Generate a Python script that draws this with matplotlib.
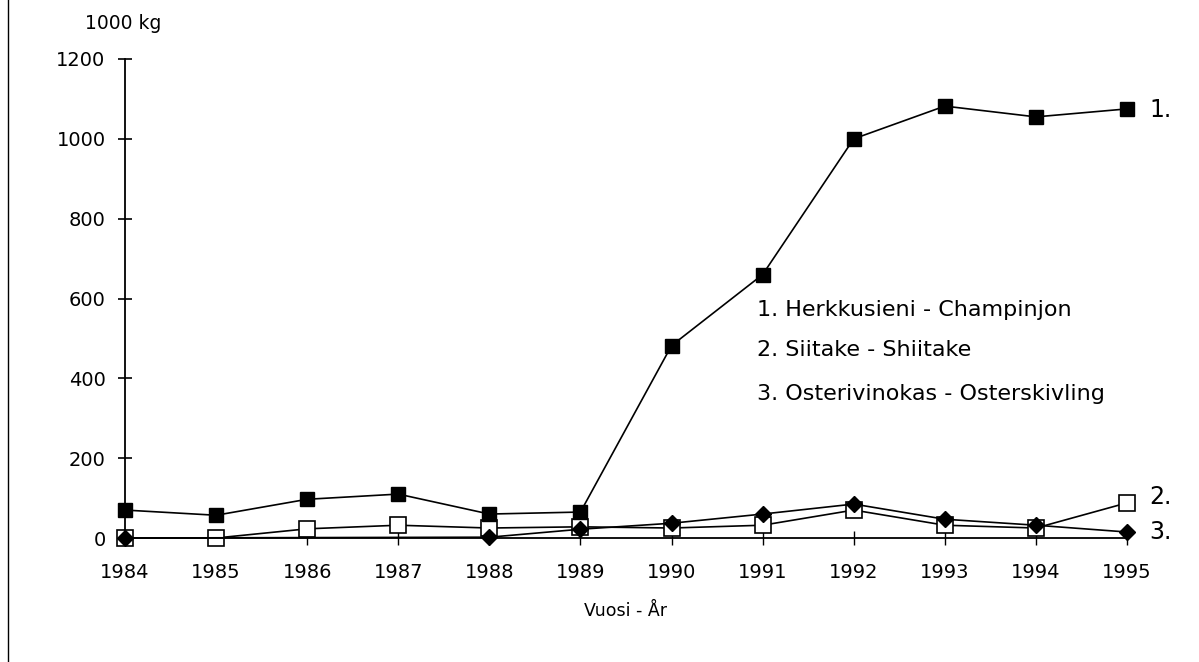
import numpy as np
import matplotlib
matplotlib.use("Agg")
import matplotlib.pyplot as plt
from matplotlib.lines import Line2D

years = [1984, 1985, 1986, 1987, 1988, 1989, 1990, 1991, 1992, 1993, 1994, 1995]
champinjon = [70, 57, 97, 110, 60, 65, 482, 660, 1000, 1082, 1055, 1075]
shiitake = [0, 0, 23, 32, 25, 28, 25, 32, 70, 32, 25, 88]
osterskivling = [0, np.nan, np.nan, np.nan, 2, 22, 37, 60, 85, 47, 32, 15]
yticks = [0, 200, 400, 600, 800, 1000, 1200]
legend_lines = ["1. Herkkusieni - Champinjon", "2. Siitake - Shiitake",
                "3. Osterivinokas - Osterskivling"]
end_labels = ["1.", "2.", "3."]

plt.rcParams['font.family'] = ['DejaVu Sans']

fig = plt.figure(figsize=(11.99, 6.62), dpi=100)
ax = fig.add_axes([125/1199, 1 - 538/662, (1127-125)/1199, (538-59)/662])

lw = 1.2
y3 = np.array(osterskivling, dtype=float)
m3 = ~np.isnan(y3)
x3 = np.array(years)[m3]
ax.plot(x3, y3[m3], color='black', lw=lw, clip_on=False, zorder=3)
ax.plot(years, shiitake, color='black', lw=lw, marker='s', markersize=11,
        markerfacecolor='white', markeredgecolor='black', markeredgewidth=1.2,
        clip_on=False, zorder=2)
ax.plot(x3, y3[m3], color='black', lw=0, marker='D', markersize=8,
        markerfacecolor='black', markeredgecolor='black', clip_on=False, zorder=4)
ax.plot(years, champinjon, color='black', lw=lw, marker='s', markersize=10,
        markerfacecolor='black', markeredgecolor='black', clip_on=False, zorder=5)

ax.set_xlim(1984, 1995)
ax.set_ylim(0, 1200)
ax.set_xticks(years)
ax.set_xticklabels([str(y) for y in years])
ax.set_yticks(yticks)
ax.set_yticklabels([str(v) for v in yticks])

for s in ['top', 'right']:
    ax.spines[s].set_visible(False)
ax.spines['left'].set_linewidth(1.3)
ax.spines['bottom'].set_linewidth(1.3)
ax.tick_params(axis='y', direction='inout', length=10, width=1.2, labelsize=14, pad=9)
ax.tick_params(axis='x', direction='inout', length=10, width=1.0, labelsize=14, pad=13)

ax.set_xlabel("Vuosi - År", fontsize=12.5)
ax.xaxis.set_label_coords(0.5, -(602 - 538) / 479)
fig.text(85/1199, 1 - 29/662, "1000 kg", fontsize=13.5, va='baseline', ha='left')

# end labels
last_vals = [champinjon[-1], shiitake[-1], osterskivling[-1]]
offsets = [-1, 4, 0]
for lbl, v, off in zip(end_labels, last_vals, offsets):
    ax.annotate(lbl, xy=(years[-1], v), xytext=(16, off), textcoords='offset points',
                fontsize=17, va='center', ha='left', annotation_clip=False)

# legend text block
baselines = [316, 356, 400]
for t, b in zip(legend_lines, baselines):
    fig.text(757/1199, 1 - b/662, t, fontsize=16, va='baseline', ha='left')

# page border line at left
fig.add_artist(Line2D([8/1199, 8/1199], [0, 1], color='black', lw=1.0,
                      transform=fig.transFigure))

fig.savefig("out.png", dpi=100)
